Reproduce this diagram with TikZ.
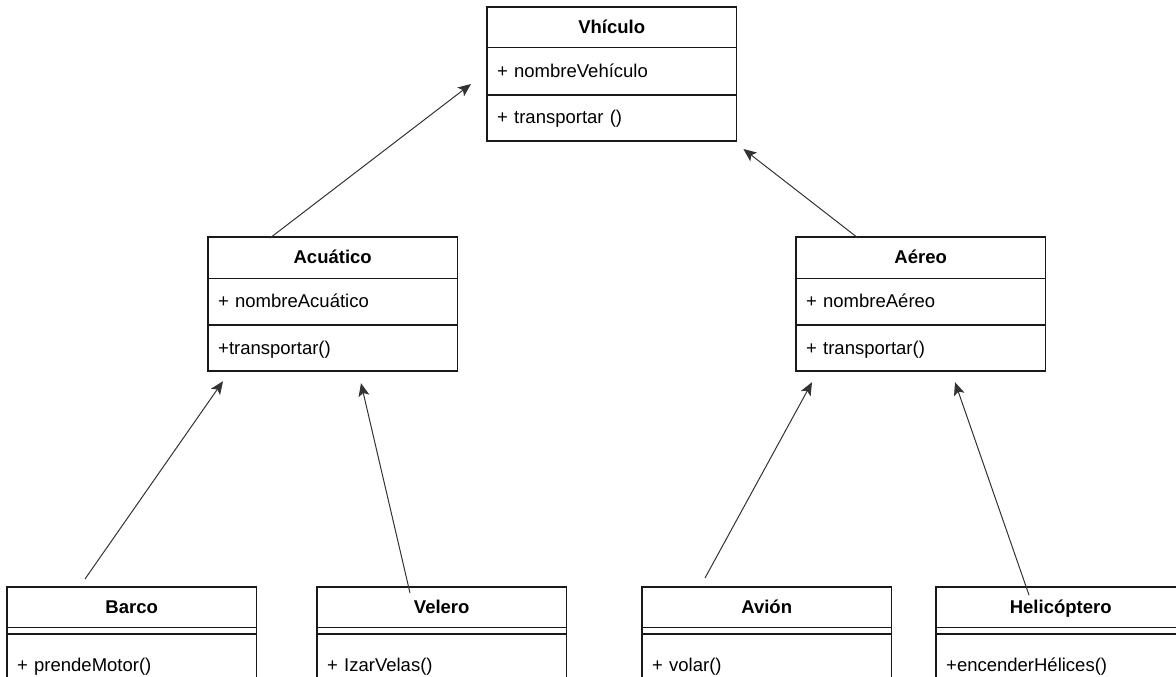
\documentclass[tikz,border=0pt]{standalone}
\usepackage{fontspec}
\setmainfont{Liberation Sans}
\usetikzlibrary{arrows.meta,calc}
\newcommand\umlfs{\fontsize{18.5}{22}\selectfont}
\tikzset{
  classhead/.style={minimum width=249pt, minimum height=#1, inner sep=0pt,
    text height=13.5pt, text depth=1pt, anchor=north west, font=\umlfs\bfseries},
  classhead/.default=40pt,
  classrow/.style={minimum width=249pt, text width=229pt, align=left,
    inner xsep=10pt, inner ysep=0pt, text height=13.5pt, text depth=1.5pt,
    minimum height=#1, anchor=north west, font=\umlfs},
  emptyrow/.style={minimum width=249pt, minimum height=#1, inner sep=0pt,
    anchor=north west},
  frame/.style={draw=black!90, line width=1.5pt},
  inherit/.style={draw=black!80, line width=1pt,
    -{Stealth[length=13pt,width=11pt,inset=3pt]}}
}
\begin{document}
\begin{tikzpicture}[x=1pt,y=-1pt]
\useasboundingbox (0,0) rectangle (1176,677);
\clip (0,0) rectangle (1176,677);

% base class
\node[classhead] (veh) at (487,7) {Vhículo};
\node[classrow=47pt] (vehA) at (veh.south west) {+ nombreVehículo};
\node[classrow=46pt] (vehM) at (vehA.south west) {+ transportar ()};
\draw[frame] (veh.north west) rectangle (vehM.south east)
  (veh.south west) -- (veh.south east)
  (vehA.south west) -- (vehA.south east);

% intermediate classes
\node[classhead=41pt] (acu) at (208,237) {Acuático};
\node[classrow=46pt] (acuA) at (acu.south west) {+ nombreAcuático};
\node[classrow=46pt] (acuM) at (acuA.south west) {+transportar()};
\draw[frame] (acu.north west) rectangle (acuM.south east)
  (acu.south west) -- (acu.south east)
  (acuA.south west) -- (acuA.south east);

\node[classhead=41pt] (aer) at (796,237) {Aéreo};
\node[classrow=46pt] (aerA) at (aer.south west) {+ nombreAéreo};
\node[classrow=46pt] (aerM) at (aerA.south west) {+ transportar()};
\draw[frame] (aer.north west) rectangle (aerM.south east)
  (aer.south west) -- (aer.south east)
  (aerA.south west) -- (aerA.south east);

% leaf classes (empty attribute compartment)
\node[classhead] (bar) at (7,587) {Barco};
\node[emptyrow=6pt] (barA) at (bar.south west) {};
\node[classrow=62pt] (barM) at (barA.south west) {+ prendeMotor()};
\draw[frame] (bar.north west) rectangle (barM.south east)
  (bar.south west) -- (bar.south east)
  (barA.south west) -- (barA.south east);

\node[classhead] (vel) at (317,587) {Velero};
\node[emptyrow=6pt] (velA) at (vel.south west) {};
\node[classrow=62pt] (velM) at (velA.south west) {+ IzarVelas()};
\draw[frame] (vel.north west) rectangle (velM.south east)
  (vel.south west) -- (vel.south east)
  (velA.south west) -- (velA.south east);

\node[classhead] (avi) at (642,587) {Avión};
\node[emptyrow=6pt] (aviA) at (avi.south west) {};
\node[classrow=62pt] (aviM) at (aviA.south west) {+ volar()};
\draw[frame] (avi.north west) rectangle (aviM.south east)
  (avi.south west) -- (avi.south east)
  (aviA.south west) -- (aviA.south east);

\node[classhead] (hel) at (936,587) {Helicóptero};
\node[emptyrow=6pt] (helA) at (hel.south west) {};
\node[classrow=62pt] (helM) at (helA.south west) {+encenderHélices()};
\draw[frame] (hel.north west) rectangle (helM.south east)
  (hel.south west) -- (hel.south east)
  (helA.south west) -- (helA.south east);

% connector end points
\coordinate (acuT) at ($(acu.north west)+(62,1)$);
\coordinate (acuH) at ($(veh.north west)+(-16,77)$);
\coordinate (aerT) at ($(aer.north west)+(62,1)$);
\coordinate (aerH) at ($(veh.north east)+(7,142)$);
\coordinate (barT) at ($(bar.north west)+(78,-8)$);
\coordinate (barH) at ($(acuM.south west)+(15,10)$);
\coordinate (velT) at ($(vel.north west)+(93,6)$);
\coordinate (velH) at ($(acuM.south west)+(153,12)$);
\coordinate (aviT) at ($(avi.north west)+(63,-9)$);
\coordinate (aviH) at ($(aerM.south west)+(16,11)$);
\coordinate (helT) at ($(hel.north west)+(93,8)$);
\coordinate (helH) at ($(aerM.south west)+(159,11)$);

% generalisations
\draw[inherit] (acuT) -- (acuH);
\draw[inherit] (aerT) -- (aerH);
\draw[inherit] (barT) -- (barH);
\draw[inherit] (velT) -- (velH);
\draw[inherit] (aviT) -- (aviH);
\draw[inherit] (helT) -- (helH);
\end{tikzpicture}
\end{document}
